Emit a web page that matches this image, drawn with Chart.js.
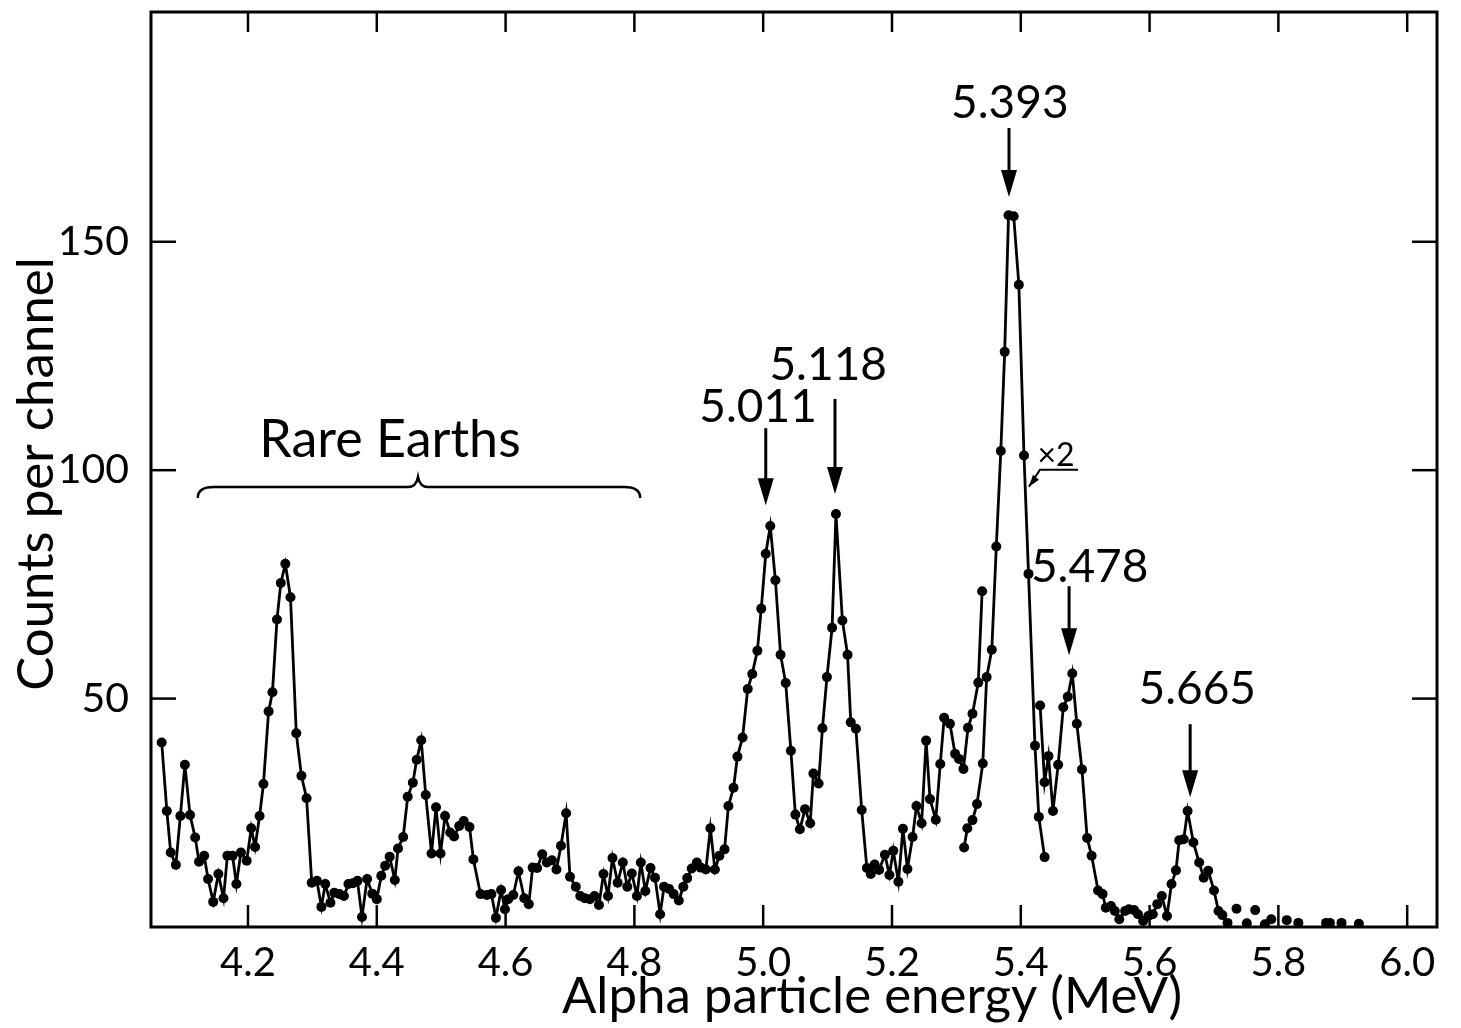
<!DOCTYPE html>
<html lang="en">
<head>
  <meta charset="UTF-8">
  <title>Alpha particle spectrum</title>
  <style>
    html, body { margin: 0; padding: 0; background: #fff; }
    #grafico { display: block; }
  </style>
</head>
<body>
  <canvas id="grafico" width="1461" height="1028"></canvas>

  <script src="https://cdn.jsdelivr.net/npm/chart.js"></script>

  <script>
    // main spectrum (MeV, counts per channel); null marks the part drawn x2
    const mainEnergy = [
      4.066,4.074,4.080,4.088,4.095,4.102,4.110,4.118,4.124,4.132,
      4.138,4.146,4.154,4.162,4.168,4.176,4.182,4.189,4.198,4.205,
      4.211,4.218,4.224,4.232,4.238,4.245,4.251,4.258,4.266,4.275,
      4.283,4.291,4.299,4.307,4.314,4.320,4.328,4.334,4.342,4.349,
      4.356,4.363,4.370,4.377,4.385,4.393,4.400,4.407,4.413,4.420,
      4.428,4.433,4.441,4.448,4.456,4.462,4.469,4.476,4.485,4.492,
      4.499,4.506,4.514,4.520,4.528,4.535,4.544,4.550,4.561,4.571,
      4.578,4.585,4.593,4.599,4.604,4.612,4.620,4.629,4.636,4.642,
      4.649,4.657,4.664,4.672,4.679,4.686,4.694,4.700,4.709,4.716,
      4.723,4.731,4.738,4.745,4.752,4.759,4.766,4.774,4.782,4.789,
      4.796,4.804,4.810,4.817,4.825,4.832,4.840,4.846,4.854,4.861,
      4.869,4.876,4.882,4.889,4.897,4.903,4.911,4.918,4.925,4.932,
      4.940,4.946,4.954,4.960,4.968,4.976,4.983,4.991,4.997,5.004,
      5.011,5.019,5.027,5.035,5.043,5.050,5.057,5.065,5.073,5.078,
      5.086,5.092,5.099,5.107,5.113,5.123,5.131,5.136,5.144,5.153,
      5.161,5.167,5.173,5.180,5.189,5.196,5.202,5.210,5.217,5.224,
      5.232,5.238,5.246,5.253,5.259,5.268,5.275,5.281,5.290,5.298,
      5.304,5.311,5.318,5.325,5.334,5.340,
      5.385,
      5.430,5.437,5.443,5.450,5.458,5.466,5.473,5.480,5.487,5.495,
      5.503,5.510,5.520,5.527,5.532,5.540,5.546,5.553,5.562,5.568,
      5.576,5.582,5.590,5.598,5.605,5.612,5.619,5.627,5.634,5.641,
      5.646,5.653,5.659,5.668,5.677,5.684,5.691,5.700,5.707,5.713,
      5.721
    ];
    const mainCounts = [
      40.4,25.4,16.3,13.6,24.3,35.5,24.5,19.6,14.3,15.6,
      10.5,5.5,11.6,6.3,15.6,15.6,9.4,16.3,14.5,21.6,
      17.5,24.3,31.3,47.2,51.4,67.3,75.3,79.5,72.2,42.4,
      33.1,28.2,9.7,10.1,4.4,9.4,5.3,7.5,7.2,6.8,
      9.4,9.6,10.1,2.2,10.5,7.3,6.1,11.2,13.4,15.4,
      10.3,17.2,19.7,28.5,31.6,36.6,40.9,28.9,16.1,26.2,
      16.1,24.3,20.7,19.8,22.1,23.2,21.9,14.8,7.2,7.0,
      7.2,2.0,8.1,3.9,6.1,7.0,12.2,6.3,5.0,13.0,
      12.9,15.9,14.1,14.6,12.6,17.8,24.9,11.0,8.8,6.8,
      6.3,6.1,6.8,4.8,11.6,6.8,15.1,9.7,14.1,8.8,
      11.7,6.8,14.1,7.9,12.9,10.8,2.8,8.8,8.3,7.2,
      5.8,8.8,10.7,12.8,14.1,13.0,12.6,21.6,12.6,15.6,
      17.0,26.5,30.5,37.3,41.5,52.1,55.4,60.5,69.7,81.7,
      87.8,75.9,59.6,53.4,38.6,24.6,21.4,25.8,22.7,33.6,
      31.4,43.5,54.7,65.5,90.4,67.1,59.6,44.8,43.4,25.6,
      12.9,11.6,13.7,12.5,15.8,11.4,16.7,9.9,21.5,12.7,
      19.7,26.5,22.7,40.8,28.0,23.5,35.7,45.8,44.5,37.9,
      36.8,34.6,43.6,46.7,53.5,73.5,
      null,
      48.5,31.7,37.4,25.4,35.5,48.1,50.4,55.5,44.5,34.5,
      19.5,15.6,8.0,7.2,4.2,4.6,3.5,1.7,3.5,3.9,
      3.7,2.8,1.3,2.4,2.8,5.0,6.8,2.4,9.4,12.4,
      19.0,19.2,25.4,18.5,14.1,10.8,12.3,8.0,3.5,2.6,
      0.9
    ];

    // 5.393 peak region, plotted x2
    const x2Energy = [5.312,5.317,5.325,5.332,5.341,5.347,5.355,5.362,5.369,5.375,
                      5.381,5.389,5.397,5.405,5.412,5.422,5.428,5.437];
    const x2Counts = [17.4,21.6,23.4,26.9,35.8,54.7,60.7,83.3,104.2,125.9,
                      155.8,155.6,140.6,103.2,77.3,39.7,24.1,15.3];

    // isolated points past the last peak
    const tailEnergy = [5.735,5.751,5.764,5.779,5.789,5.813,5.831,5.874,5.880,5.898,5.925];
    const tailCounts = [4.0,0.8,3.7,0.6,1.7,1.5,0.9,0.9,0.9,0.9,0.7];

    const xTicks = [4.2,4.4,4.6,4.8,5.0,5.2,5.4,5.6,5.8,6.0];
    const yTicks = [50,100,150];

    // peak labels: text, label position, arrow x, arrow from / to (counts)
    const peakText   = ["5.011","5.118","5.393","5.478","5.665"];
    const peakLabelE = [4.992, 5.101, 5.383, 5.507, 5.674];
    const peakLabelC = [113.8, 122.9, 180.4, 78.8, 52.0];
    const peakArrowE = [5.004, 5.1115, 5.3817, 5.475, 5.663];
    const peakArrowFrom = [109.2, 115.6, 174.9, 74.6, 44.4];
    const peakArrowTo   = [92.3, 94.8, 159.8, 59.5, 28.4];

    const FONT = 'Lato, "DejaVu Sans", sans-serif';

    function pts(xs, ys) {
      return xs.map((e, i) => ({x: e, y: ys[i]}));
    }

    function line(ctx, x1, y1, x2, y2) {
      ctx.beginPath();
      ctx.moveTo(x1, y1);
      ctx.lineTo(x2, y2);
      ctx.stroke();
    }

    const decoraciones = {
      id: "decoraciones",
      afterDatasetsDraw(chart) {
        const ctx = chart.ctx;
        const a = chart.chartArea;
        const sx = chart.scales.x, sy = chart.scales.y;
        ctx.save();
        ctx.strokeStyle = "#000";
        ctx.fillStyle = "#000";
        ctx.lineCap = "butt";

        // frame
        ctx.lineWidth = 3;
        ctx.strokeRect(a.left, a.top, a.right - a.left, a.bottom - a.top);

        // inward ticks on all four sides
        ctx.lineWidth = 2.5;
        xTicks.forEach(v => {
          const px = sx.getPixelForValue(v);
          line(ctx, px, a.bottom, px, a.bottom - 22);
          line(ctx, px, a.top, px, a.top + 20);
        });
        yTicks.forEach(v => {
          const py = sy.getPixelForValue(v);
          line(ctx, a.left, py, a.left + 25, py);
          line(ctx, a.right, py, a.right - 25, py);
        });

        // peak labels and arrows
        ctx.font = "46px " + FONT;
        ctx.textAlign = "center";
        ctx.textBaseline = "middle";
        peakText.forEach((t, i) => {
          ctx.fillText(t, sx.getPixelForValue(peakLabelE[i]), sy.getPixelForValue(peakLabelC[i]));
          const px = sx.getPixelForValue(peakArrowE[i]);
          const y1 = sy.getPixelForValue(peakArrowFrom[i]);
          const y2 = sy.getPixelForValue(peakArrowTo[i]);
          ctx.lineWidth = 3;
          line(ctx, px, y1, px, y2 - 20);
          ctx.beginPath();
          ctx.moveTo(px, y2);
          ctx.lineTo(px - 8, y2 - 27);
          ctx.lineTo(px + 8, y2 - 27);
          ctx.closePath();
          ctx.fill();
        });

        // "Rare Earths" with brace
        ctx.font = "52px " + FONT;
        ctx.fillText("Rare Earths", sx.getPixelForValue(4.4205), sy.getPixelForValue(106.6));
        const bx1 = sx.getPixelForValue(4.122), bx2 = sx.getPixelForValue(4.809);
        const bxc = sx.getPixelForValue(4.464);
        const yEnd = sy.getPixelForValue(93.9), yMid = sy.getPixelForValue(96.3), yTip = sy.getPixelForValue(98.5);
        ctx.lineWidth = 2.5;
        ctx.beginPath();
        ctx.moveTo(bx1, yEnd);
        ctx.quadraticCurveTo(bx1, yMid, bx1 + 16, yMid);
        ctx.lineTo(bxc - 10, yMid);
        ctx.quadraticCurveTo(bxc - 2, yMid, bxc, yTip);
        ctx.quadraticCurveTo(bxc + 2, yMid, bxc + 10, yMid);
        ctx.lineTo(bx2 - 16, yMid);
        ctx.quadraticCurveTo(bx2, yMid, bx2, yEnd);
        ctx.stroke();

        // x2 marker with leader
        ctx.font = "32px " + FONT;
        ctx.fillText("\u00d72", sx.getPixelForValue(5.4547), sy.getPixelForValue(103.2));
        const lx0 = sx.getPixelForValue(5.4127), ly0 = sy.getPixelForValue(96.4);
        const lx1 = sx.getPixelForValue(5.4298), ly1 = sy.getPixelForValue(100.1);
        const lx2 = sx.getPixelForValue(5.4888);
        ctx.lineWidth = 2;
        ctx.beginPath();
        ctx.moveTo(lx0, ly0);
        ctx.lineTo(lx1, ly1);
        ctx.lineTo(lx2, ly1);
        ctx.stroke();
        ctx.beginPath();
        ctx.moveTo(lx0, ly0);
        ctx.lineTo(lx0 + 4, ly0 - 12);
        ctx.lineTo(lx0 + 10, ly0 - 7);
        ctx.closePath();
        ctx.fill();

        // axis titles
        ctx.font = "51px " + FONT;
        ctx.fillText("Alpha particle energy (MeV)", 872, 997);
        ctx.save();
        ctx.translate(37, 474);
        ctx.rotate(-Math.PI / 2);
        ctx.fillText("Counts per channel", 0, 0);
        ctx.restore();

        ctx.restore();
      }
    };

    const lienzo = document.getElementById("grafico");

    const grafico = new Chart(lienzo, {
      type: "scatter",
      data: {
        datasets: [
          {
            label: "spectrum",
            data: pts(mainEnergy, mainCounts),
            showLine: true,
            spanGaps: false,
            borderColor: "#000",
            borderWidth: 2.8,
            pointRadius: 5,
            pointBackgroundColor: "#000",
            pointBorderWidth: 0,
            tension: 0
          },
          {
            label: "x2",
            data: pts(x2Energy, x2Counts),
            showLine: true,
            borderColor: "#000",
            borderWidth: 2.8,
            pointRadius: 5,
            pointBackgroundColor: "#000",
            pointBorderWidth: 0,
            tension: 0
          },
          {
            label: "tail",
            data: pts(tailEnergy, tailCounts),
            showLine: false,
            pointRadius: 5,
            pointBackgroundColor: "#000",
            pointBorderWidth: 0
          }
        ]
      },
      options: {
        responsive: false,
        animation: false,
        devicePixelRatio: 1,
        layout: { padding: { top: 12, right: 24, left: 0, bottom: 0 } },
        plugins: {
          legend: { display: false },
          tooltip: { enabled: false }
        },
        scales: {
          x: {
            type: "linear",
            min: 4.0494,
            max: 6.0463,
            grid: { display: false, drawTicks: false },
            border: { display: false },
            afterBuildTicks: s => { s.ticks = xTicks.map(v => ({value: v})); },
            afterFit: s => { s.height = 101; s.paddingLeft = 0; s.paddingRight = 0; },
            ticks: {
              color: "#000",
              padding: 12,
              maxRotation: 0,
              font: { family: FONT, size: 40 },
              callback: v => v.toFixed(1)
            }
          },
          y: {
            type: "linear",
            min: 0,
            max: 200.3,
            grid: { display: false, drawTicks: false },
            border: { display: false },
            afterBuildTicks: s => { s.ticks = yTicks.map(v => ({value: v})); },
            afterFit: s => { s.width = 151; s.paddingTop = 0; s.paddingBottom = 0; },
            ticks: {
              color: "#000",
              padding: 22,
              font: { family: FONT, size: 41 },
              callback: v => v
            }
          }
        }
      },
      plugins: [decoraciones]
    });
  </script>
</body>
</html>
